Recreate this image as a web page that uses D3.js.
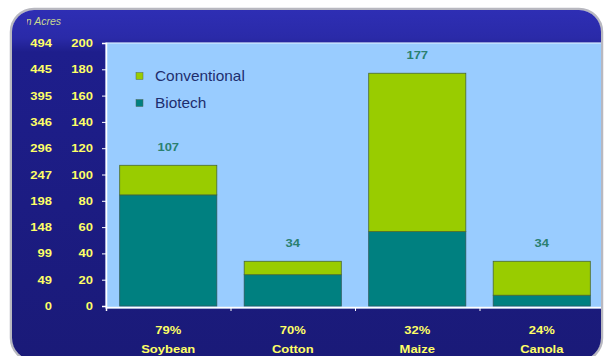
<!DOCTYPE html>
<html><head><meta charset="utf-8">
<script src="https://cdn.jsdelivr.net/npm/d3@7"></script>
<style>html,body{margin:0;padding:0;background:#fff;}svg{display:block;}</style>
</head><body>
<script>
const categories = ["Soybean", "Cotton", "Maize", "Canola"];
const biotechShare = ["79%", "70%", "32%", "24%"];
const biotech = [84.5, 23.8, 56.6, 8.2];
const totals = [107, 34, 177, 34];
const conventional = totals.map((t, i) => t - biotech[i]);
const hectareTicks = [0, 20, 40, 60, 80, 100, 120, 140, 160, 180, 200];
const acreTicks = ["0", "49", "99", "148", "198", "247", "296", "346", "395", "445", "494"];
const seriesNames = ["Conventional", "Biotech"];

(function () {
const W = 605, H = 356;
const FONT = "Arial, 'Liberation Sans', sans-serif";
const SX = 1.18;
const svg = d3.select("body").append("svg").attr("width", W).attr("height", H);
const defs = svg.append("defs");
const g1 = defs.append("linearGradient").attr("id", "bg").attr("x1", 0).attr("x2", 0).attr("y1", 0).attr("y2", 1);
g1.append("stop").attr("offset", "0%").attr("stop-color", "#2e2eb4");
g1.append("stop").attr("offset", "8%").attr("stop-color", "#2a2aa8");
g1.append("stop").attr("offset", "12%").attr("stop-color", "#1e1e8c");
g1.append("stop").attr("offset", "100%").attr("stop-color", "#1a1a78");
defs.append("clipPath").attr("id", "frameClip").append("rect")
  .attr("x", 12).attr("y", 10).attr("width", 589).attr("height", 350).attr("rx", 22);
defs.append("clipPath").attr("id", "unitClip").append("rect")
  .attr("x", 27).attr("y", 10).attr("width", 60).attr("height", 20);

svg.append("rect").attr("x", 11).attr("y", 9).attr("width", 591).attr("height", 352).attr("rx", 23)
  .attr("fill", "none").attr("stroke", "#b8b8c0").attr("stroke-width", 2.5);
const frame = svg.append("g").attr("clip-path", "url(#frameClip)");
frame.append("rect").attr("x", 12).attr("y", 10).attr("width", 589).attr("height", 350).attr("fill", "url(#bg)");

const pl = 106, pr = 604, pt = 43, pb = 306;
const x = d3.scaleBand().domain(categories).range([pl, pr]).paddingInner(0.22).paddingOuter(0.11);
const y = d3.scaleLinear().domain([0, 200]).range([pb, pt]);

function stretchedText(sel, tx, ty, size, color, anchor) {
  return sel.attr("transform", (d, i) => `translate(${tx(d, i)},${ty(d, i)}) scale(${SX},1)`)
    .attr("text-anchor", anchor).attr("fill", color).attr("font-family", FONT)
    .attr("font-weight", "bold").attr("font-size", size);
}

// plot area
frame.append("rect").attr("x", pl).attr("y", pt).attr("width", pr - pl).attr("height", pb - pt + 2)
  .attr("fill", "#99ccff").attr("stroke", "#d8ecff").attr("stroke-width", 1.2);

// axes
const yAxis = frame.append("g").attr("transform", `translate(${pl},0)`)
  .call(d3.axisLeft(y).tickValues(hectareTicks).tickSize(4).tickFormat(""));
yAxis.select(".domain").attr("stroke", "#ffffff").attr("stroke-width", 1.5);
yAxis.selectAll(".tick line").attr("stroke", "#ffffff");

const xAxisScale = d3.scaleLinear().domain([0, 4]).range([pl, pr]);
const xAxis = frame.append("g").attr("transform", `translate(0,${pb + 1})`)
  .call(d3.axisBottom(xAxisScale).ticks(4).tickSize(4).tickFormat(""));
xAxis.select(".domain").attr("stroke", "#ffffff").attr("stroke-width", 1.5);
xAxis.selectAll(".tick line").attr("stroke", "#ffffff");

// hectare column
stretchedText(frame.append("g").selectAll("text").data(hectareTicks).join("text"),
  () => 93, d => y(d) + 4, 11, "#ffff66", "end").text(d => d);
// acres column
stretchedText(frame.append("g").selectAll("text").data(acreTicks).join("text"),
  () => 52, (d, i) => y(hectareTicks[i]) + 4, 11, "#ffff66", "end").text(d => d);
frame.append("g").attr("clip-path", "url(#unitClip)").append("text")
  .attr("x", 61).attr("y", 25).attr("text-anchor", "end").attr("fill", "#c8d890")
  .attr("font-family", FONT).attr("font-style", "italic").attr("font-size", 10.5).text("Million Acres");

// bars
const bars = frame.append("g");
bars.selectAll("rect.bio").data(categories).join("rect").attr("class", "bio")
  .attr("x", d => x(d)).attr("width", x.bandwidth())
  .attr("y", (d, i) => y(biotech[i])).attr("height", (d, i) => y(0) - y(biotech[i]))
  .attr("fill", "#008080").attr("stroke", "#2a5a5a").attr("stroke-width", 0.8);
bars.selectAll("rect.conv").data(categories).join("rect").attr("class", "conv")
  .attr("x", d => x(d)).attr("width", x.bandwidth())
  .attr("y", (d, i) => y(totals[i])).attr("height", (d, i) => y(biotech[i]) - y(totals[i]))
  .attr("fill", "#99cc00").attr("stroke", "#4a6a30").attr("stroke-width", 0.8);

// totals
stretchedText(frame.append("g").selectAll("text").data(categories).join("text"),
  d => x(d) + x.bandwidth() / 2, (d, i) => y(totals[i]) - 14, 11, "#2a8070", "middle")
  .text((d, i) => totals[i]);

// category labels
stretchedText(frame.append("g").selectAll("text").data(categories).join("text"),
  d => x(d) + x.bandwidth() / 2, () => 334, 11, "#ffff66", "middle").text((d, i) => biotechShare[i]);
stretchedText(frame.append("g").selectAll("text").data(categories).join("text"),
  d => x(d) + x.bandwidth() / 2, () => 353, 11, "#ffff66", "middle").text(d => d);

// legend
const legColors = ["#99cc00", "#008080"];
const leg = frame.append("g").selectAll("g").data(seriesNames).join("g")
  .attr("transform", (d, i) => `translate(136,${76 + i * 27})`);
leg.append("rect").attr("x", 0).attr("y", -3.5).attr("width", 7).attr("height", 7)
  .attr("fill", (d, i) => legColors[i]).attr("stroke", "#556655").attr("stroke-width", 0.5);
leg.append("text").attr("transform", `translate(19,5) scale(1.1,1)`).attr("fill", "#1e2e6e")
  .attr("font-family", FONT).attr("font-size", 14).text(d => d);
})();
</script>
</body></html>
